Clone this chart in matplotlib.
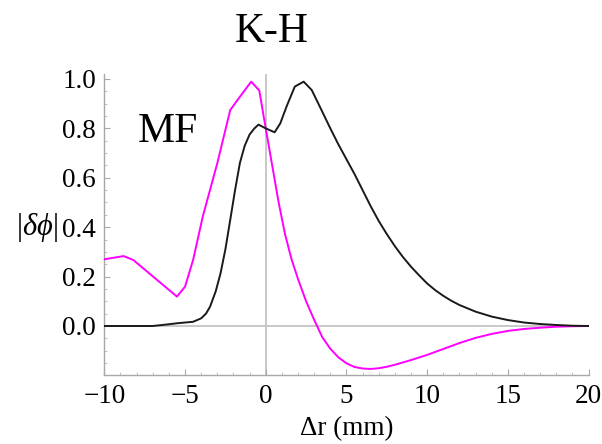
import matplotlib
matplotlib.use("Agg")
import matplotlib.pyplot as plt
from matplotlib.ticker import MultipleLocator, FixedLocator

plt.rcParams['font.family'] = ['Liberation Serif', 'DejaVu Serif']
plt.rcParams['mathtext.fontset'] = 'custom'
plt.rcParams['mathtext.rm'] = 'Liberation Serif'
plt.rcParams['mathtext.it'] = 'Liberation Serif:italic'

# MF profile (magenta)
x_mf = [-10, -8.8, -8.2, -5.5, -5.0, -4.5, -3.9, -3.0, -2.2, -1.6, -0.9, -0.4,
        0.0, 0.4, 0.8, 1.2, 1.6, 2.0, 2.5, 3.0, 3.5, 4.0, 4.5, 5.0, 5.5, 6.0,
        6.5, 7.0, 7.5, 8.0, 9.0, 10.0, 11.0, 12.0, 13.0, 14.0, 15.0, 16.0,
        17.0, 18.0, 19.0, 20.0]
y_mf = [0.27, 0.283, 0.267, 0.119, 0.159, 0.267, 0.443, 0.659, 0.874, 0.928,
        0.989, 0.953, 0.80, 0.65, 0.50, 0.37, 0.27, 0.19, 0.10, 0.025, -0.045,
        -0.092, -0.127, -0.151, -0.166, -0.172, -0.174, -0.171, -0.165,
        -0.157, -0.138, -0.117, -0.093, -0.069, -0.048, -0.032, -0.020,
        -0.012, -0.007, -0.003, -0.001, 0.0]

# K-H profile (black)
x_kh = [-10, -7.0, -6.0, -5.5, -4.5, -4.0, -3.7, -3.45, -3.1, -2.8, -2.5, -2.2,
        -1.9, -1.6, -1.3, -1.0, -0.7, -0.45, 0.0, 0.55, 0.9, 1.3, 1.8, 2.35,
        2.85, 3.35, 4.0, 4.5, 5.0, 5.5, 6.0, 6.5, 7.0, 7.5, 8.0, 8.5, 9.0, 9.5,
        10.0, 10.5, 11.0, 11.5, 12.0, 13.0, 14.0, 15.0, 16.0, 17.0, 18.0,
        19.0, 20.0]
y_kh = [0.0, 0.0, 0.007, 0.011, 0.017, 0.031, 0.05, 0.078, 0.14, 0.213, 0.31,
        0.429, 0.55, 0.66, 0.73, 0.775, 0.80, 0.815, 0.80, 0.784, 0.82, 0.89,
        0.969, 0.989, 0.955, 0.888, 0.80, 0.735, 0.675, 0.615, 0.55, 0.485,
        0.425, 0.372, 0.323, 0.279, 0.24, 0.205, 0.172, 0.145, 0.122, 0.102,
        0.085, 0.058, 0.038, 0.024, 0.014, 0.008, 0.004, 0.001, 0.0]

x_ticks = [-10, -5, 0, 5, 10, 15, 20]
y_ticks = [0.0, 0.2, 0.4, 0.6, 0.8, 1.0]

fig = plt.figure(figsize=(6.02, 4.44), dpi=100)
ax = fig.add_axes([104.3 / 602, 1 - 375.4 / 444, (588.6 - 104.3) / 602, (375.4 - 74) / 444])

ax.axvline(0, color='#c4c4c4', lw=1.3, zorder=1)
ax.axhline(0, color='#c4c4c4', lw=1.3, zorder=1)

ax.plot(x_mf, y_mf, color='#ff00ff', lw=1.4, zorder=3)
ax.plot(x_kh, y_kh, color='#1a1a1a', lw=1.4, zorder=3)

ax.set_xlim(-10, 20)
ax.set_ylim(-0.2, 1.02)

for side in ('top', 'right'):
    ax.spines[side].set_visible(False)
for side in ('left', 'bottom'):
    ax.spines[side].set_color('#a8a8a8')
    ax.spines[side].set_linewidth(1.0)

ax.xaxis.set_major_locator(FixedLocator(x_ticks))
ax.xaxis.set_minor_locator(MultipleLocator(1))
ax.yaxis.set_major_locator(FixedLocator(y_ticks))
ax.yaxis.set_minor_locator(MultipleLocator(0.05))
ax.set_yticklabels([f"{v:.1f}" for v in y_ticks])
ax.set_xticklabels([f"{v}".replace('-', '\u2212') for v in x_ticks])
ax.tick_params(which='major', direction='in', length=4, width=0.8, color='#a8a8a8',
               labelsize=19.5, pad=6)
ax.tick_params(which='minor', direction='in', length=2.2, width=0.6, color='#b8b8b8')

ax.set_xlabel('\u0394r (mm)', fontsize=19.5, labelpad=5)
fig.text(58 / 602, 1 - 227 / 444, r'$|\delta\phi|$', fontsize=22, ha='right', va='center')

fig.text(272 / 602, 1 - 42 / 444, 'K-H', fontsize=30, ha='center', va='baseline')
ax.text(-7.9, 0.746, 'MF', fontsize=30, ha='left', va='baseline')

fig.savefig('out.png', dpi=100, facecolor='white')
